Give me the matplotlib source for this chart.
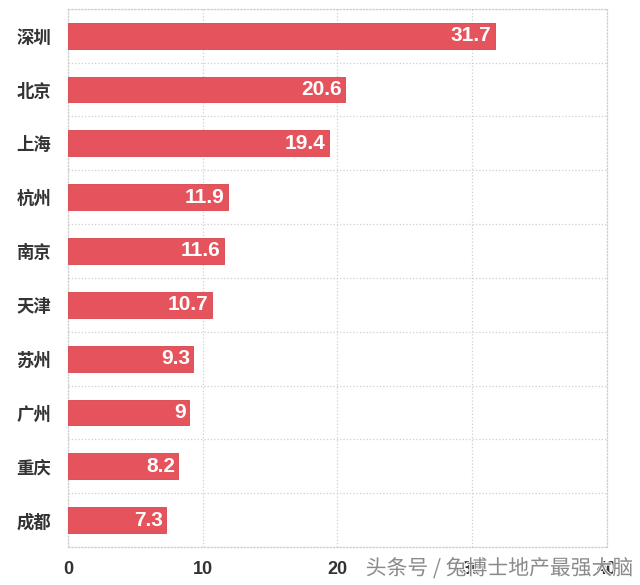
import matplotlib.pyplot as plt
import matplotlib.patheffects as pe

plt.rcParams['font.family'] = ['Liberation Sans', 'Noto Sans CJK SC', 'DejaVu Sans']

cities = ['深圳', '北京', '上海', '杭州', '南京', '天津', '苏州', '广州', '重庆', '成都']
values = [31.7, 20.6, 19.4, 11.9, 11.6, 10.7, 9.3, 9, 8.2, 7.3]
labels = ['31.7', '20.6', '19.4', '11.9', '11.6', '10.7', '9.3', '9', '8.2', '7.3']
xticks = [0, 10, 20, 30, 40]

fig = plt.figure(figsize=(6.4, 5.85), dpi=100)
ax = fig.add_axes([0.106, 0.065, 0.842, 0.92])

ypos = list(range(len(cities)))
ax.barh(ypos, values, height=0.48, color='#e5545c', edgecolor='#d9434c', linewidth=0.6, zorder=3)

for y, v, t in zip(ypos, values, labels):
    ax.text(v - 0.25, y, t, ha='right', va='center', color='white',
            fontsize=15, fontweight='bold', zorder=4)

ax.set_xlim(0, 40)
ax.set_ylim(len(cities) - 0.5, -0.5)
ax.set_yticks(ypos)
ax.set_yticklabels(cities, fontsize=12.5, fontweight='bold', color='#333333')
ax.set_xticks(xticks)
ax.set_xticklabels([str(x) for x in xticks], fontsize=13, fontweight='bold', color='#333333')
ax.tick_params(length=0, pad=10)
ax.tick_params(axis='y', pad=12)

# grid lines between categories and at tick positions
ax.set_yticks([i + 0.5 for i in range(-1, len(cities))], minor=True)
ax.grid(True, which='minor', axis='y', linestyle=':', color='#cfcfcf', linewidth=0.9)
ax.grid(True, which='major', axis='x', linestyle=':', color='#cfcfcf', linewidth=0.9)
ax.tick_params(which='minor', length=0)
for s in ax.spines.values():
    s.set_linestyle(':')
    s.set_color('#cfcfcf')
    s.set_linewidth(0.9)

# watermark (sits over the 30/40 tick labels, as in the original)
wm = fig.text(0.99, 0.028, '头条号 / 兔博士地产最强大脑', ha='right', va='center',
              fontsize=15, color='#8a8a8a', family=['Noto Sans CJK SC', 'DejaVu Sans'], zorder=10)
wm.set_path_effects([pe.withStroke(linewidth=1.2, foreground='white')])

fig.savefig('out.png', dpi=100, facecolor='white')
